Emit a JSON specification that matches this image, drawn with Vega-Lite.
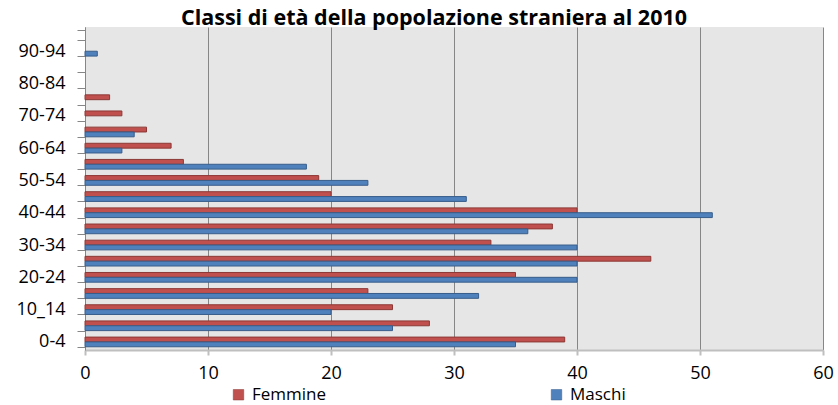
{
  "$schema": "https://vega.github.io/schema/vega-lite/v6.json",
  "width": 738,
  "height": 323,
  "autosize": {"type": "none"},
  "padding": {"left": 85, "top": 27, "right": 15, "bottom": 55},
  "background": "white",
  "title": {"text": "Classi di età della popolazione straniera al 2010", "font": "Open Sans", "fontSize": 21.5, "fontWeight": "bold", "color": "#000000", "anchor": "middle", "dx": -20, "dy": 14, "offset": 3},
  "data": {"values": [
    {"classe": "0-4", "sesso": "Femmine", "valore": 39}, {"classe": "0-4", "sesso": "Maschi", "valore": 35},
    {"classe": "5-9", "sesso": "Femmine", "valore": 28}, {"classe": "5-9", "sesso": "Maschi", "valore": 25},
    {"classe": "10_14", "sesso": "Femmine", "valore": 25}, {"classe": "10_14", "sesso": "Maschi", "valore": 20},
    {"classe": "15-19", "sesso": "Femmine", "valore": 23}, {"classe": "15-19", "sesso": "Maschi", "valore": 32},
    {"classe": "20-24", "sesso": "Femmine", "valore": 35}, {"classe": "20-24", "sesso": "Maschi", "valore": 40},
    {"classe": "25-29", "sesso": "Femmine", "valore": 46}, {"classe": "25-29", "sesso": "Maschi", "valore": 40},
    {"classe": "30-34", "sesso": "Femmine", "valore": 33}, {"classe": "30-34", "sesso": "Maschi", "valore": 40},
    {"classe": "35-39", "sesso": "Femmine", "valore": 38}, {"classe": "35-39", "sesso": "Maschi", "valore": 36},
    {"classe": "40-44", "sesso": "Femmine", "valore": 40}, {"classe": "40-44", "sesso": "Maschi", "valore": 51},
    {"classe": "45-49", "sesso": "Femmine", "valore": 20}, {"classe": "45-49", "sesso": "Maschi", "valore": 31},
    {"classe": "50-54", "sesso": "Femmine", "valore": 19}, {"classe": "50-54", "sesso": "Maschi", "valore": 23},
    {"classe": "55-59", "sesso": "Femmine", "valore": 8}, {"classe": "55-59", "sesso": "Maschi", "valore": 18},
    {"classe": "60-64", "sesso": "Femmine", "valore": 7}, {"classe": "60-64", "sesso": "Maschi", "valore": 3},
    {"classe": "65-69", "sesso": "Femmine", "valore": 5}, {"classe": "65-69", "sesso": "Maschi", "valore": 4},
    {"classe": "70-74", "sesso": "Femmine", "valore": 3}, {"classe": "70-74", "sesso": "Maschi", "valore": 0},
    {"classe": "75-79", "sesso": "Femmine", "valore": 2}, {"classe": "75-79", "sesso": "Maschi", "valore": 0},
    {"classe": "80-84", "sesso": "Femmine", "valore": 0}, {"classe": "80-84", "sesso": "Maschi", "valore": 0},
    {"classe": "85-89", "sesso": "Femmine", "valore": 0}, {"classe": "85-89", "sesso": "Maschi", "valore": 0},
    {"classe": "90-94", "sesso": "Femmine", "valore": 0}, {"classe": "90-94", "sesso": "Maschi", "valore": 1}
  ]},
  "transform": [{"filter": "datum.valore > 0"}],
  "mark": {"type": "bar", "strokeWidth": 1},
  "encoding": {
    "y": {
      "field": "classe", "type": "nominal",
      "scale": {"domain": ["95-99", "90-94", "85-89", "80-84", "75-79", "70-74", "65-69", "60-64", "55-59", "50-54", "45-49", "40-44", "35-39", "30-34", "25-29", "20-24", "15-19", "10_14", "5-9", "0-4"], "paddingInner": 0.4, "paddingOuter": 0.2},
      "axis": {
        "title": null, "grid": false, "tickBand": "extent", "tickSize": 8, "tickColor": "#868686", "domainColor": "#868686",
        "labelFont": "Open Sans", "labelFontSize": 18, "labelColor": "#000000", "labelPadding": 12,
        "labelExpr": "indexof(['0-4','10_14','20-24','30-34','40-44','50-54','60-64','70-74','80-84','90-94'], datum.value) >= 0 ? datum.value : ''"
      }
    },
    "yOffset": {"field": "sesso", "type": "nominal", "scale": {"domain": ["Femmine", "Maschi"], "paddingInner": 0}},
    "x": {
      "field": "valore", "type": "quantitative",
      "scale": {"domain": [0, 60], "nice": false},
      "axis": {
        "title": null, "values": [0, 10, 20, 30, 40, 50, 60], "grid": true, "gridColor": "#868686", "gridWidth": 1,
        "domainColor": "#BFBFBF", "domainWidth": 2, "tickColor": "#BFBFBF", "tickSize": 5, "tickWidth": 2,
        "labelFont": "Open Sans", "labelFontSize": 18, "labelColor": "#000000", "labelPadding": 9, "labelFlush": false
      }
    },
    "color": {
      "field": "sesso", "type": "nominal",
      "scale": {"domain": ["Femmine", "Maschi"], "range": ["#C0504D", "#4F81BD"]},
      "legend": {
        "title": null, "orient": "none", "legendX": 145, "legendY": 359, "direction": "horizontal", "columns": 2, "columnPadding": 221,
        "symbolType": "square", "symbolSize": 110, "symbolStrokeColor": "#555555", "symbolStrokeWidth": 0.5, "symbolOpacity": 1,
        "labelFont": "Open Sans", "labelFontSize": 17, "labelColor": "#000000", "labelOffset": 5, "padding": 0
      }
    },
    "stroke": {
      "field": "sesso", "type": "nominal",
      "scale": {"domain": ["Femmine", "Maschi"], "range": ["#8C3836", "#385D8A"]},
      "legend": null
    }
  },
  "config": {"view": {"fill": "#E6E6E6", "stroke": null}}
}
